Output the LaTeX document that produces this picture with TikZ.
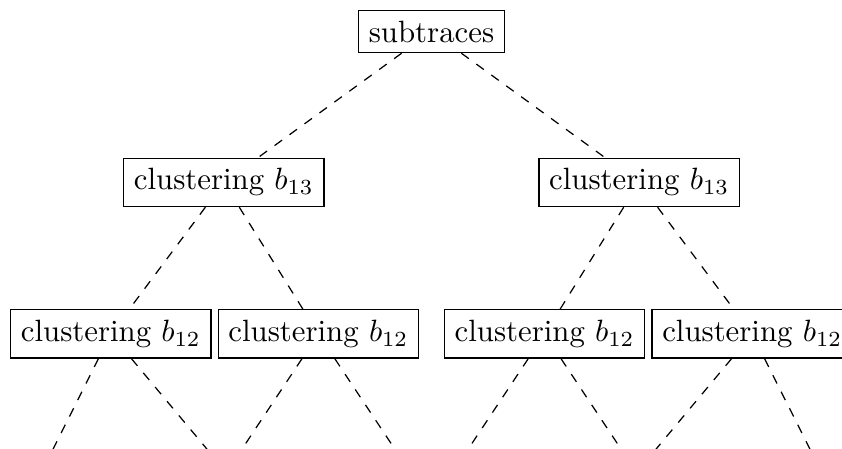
\documentclass[tikz,border=0pt]{standalone}
\usetikzlibrary{positioning}

\begin{document}
\begin{tikzpicture}[
    node distance=1.725cm,
    on grid,
    cluster/.style={
        draw,
        rectangle
    }
]
\useasboundingbox (-4.925,0.3595) rectangle (4.685,-4.754);
\clip (-4.925,0.3595) rectangle (4.685,-4.754);

% root
\node[cluster] (root) {subtraces};
% second level
\node[cluster, below left=1.723cm and 2.37cm of root] (L) {clustering $b_{13}$};
\node[cluster, below right=1.723cm and 2.37cm of root] (R) {clustering $b_{13}$};
% third level
\node[cluster, below left=1.729cm and 1.29cm of L] (LL) {clustering $b_{12}$};
\node[cluster, below right=1.729cm and 1.079cm of L] (LR) {clustering $b_{12}$};
\node[cluster, below left=1.729cm and 1.079cm of R] (RL) {clustering $b_{12}$};
\node[cluster, below right=1.729cm and 1.29cm of R] (RR) {clustering $b_{12}$};
% fourth level (outside the picture)
\coordinate[below left=1.725cm and 0.865cm of LL] (LLa);
\coordinate[below right=1.725cm and 1.44cm of LL] (LLb);
\coordinate[below left=1.725cm and 1.145cm of LR] (LRa);
\coordinate[below right=1.725cm and 1.145cm of LR] (LRb);
\coordinate[below left=1.725cm and 1.145cm of RL] (RLa);
\coordinate[below right=1.725cm and 1.145cm of RL] (RLb);
\coordinate[below left=1.725cm and 1.44cm of RR] (RRa);
\coordinate[below right=1.725cm and 0.865cm of RR] (RRb);
% branches
\path[dashed]
(root) edge (L)
(root) edge (R)

(L) edge (LL)
(L) edge (LR)
(R) edge (RL)
(R) edge (RR)

(LL) edge (LLa)
(LL) edge (LLb)
(LR) edge (LRa)
(LR) edge (LRb)
(RL) edge (RLa)
(RL) edge (RLb)
(RR) edge (RRa)
(RR) edge (RRb);
\end{tikzpicture}
\end{document}
